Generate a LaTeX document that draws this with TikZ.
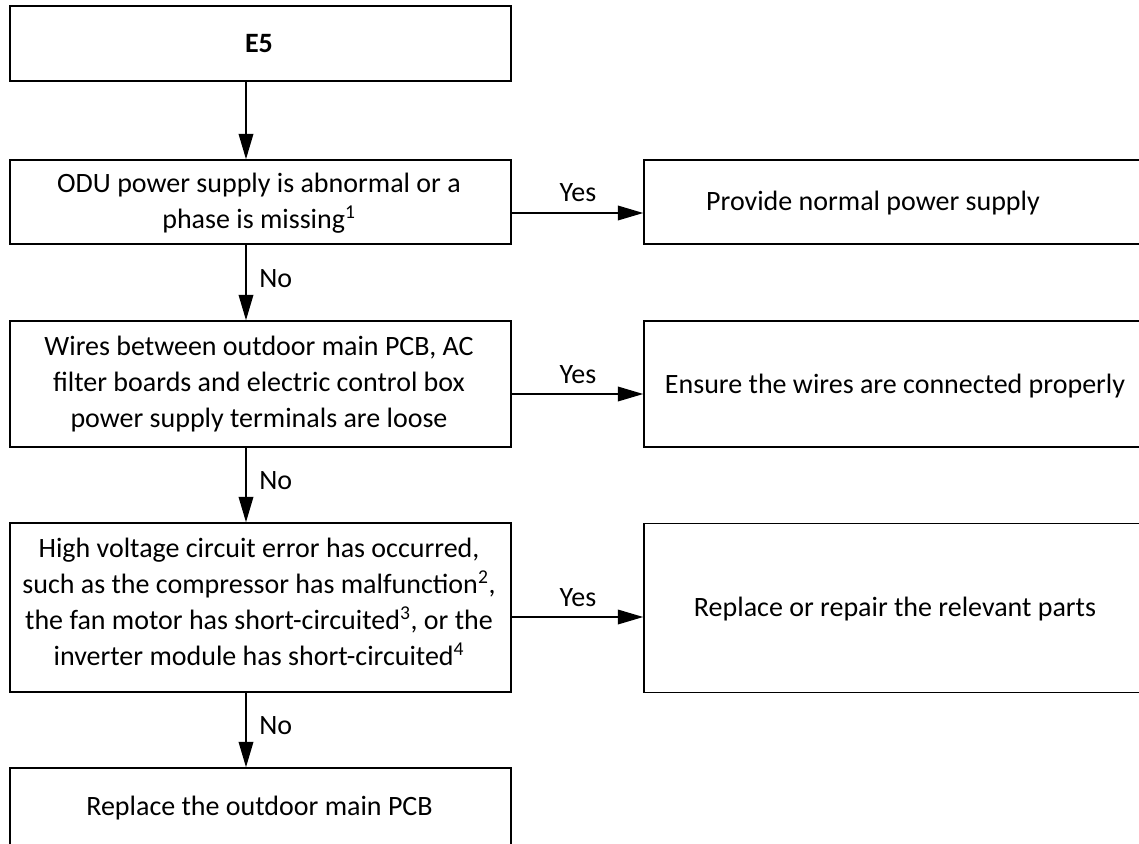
\documentclass[tikz,border=0pt]{standalone}
\usepackage{fontspec}
\setmainfont{Carlito}
\usetikzlibrary{arrows.meta,calc}
\begin{document}
\begin{tikzpicture}[x=0.75pt,y=-0.75pt,
  box/.style={draw, line width=1.2pt, rectangle, inner sep=0pt, minimum width=375.75pt},
  rbox/.style={draw, line width=1.2pt, rectangle, inner sep=0pt, minimum width=387pt},
  txt/.style={align=center, inner sep=0pt, font=\fontsize{21}{27}\selectfont},
  arr/.style={line width=1pt, -{Triangle[length=19pt,width=11pt]}},
  lbl/.style={inner sep=0pt, font=\fontsize{21}{25}\selectfont}]
\useasboundingbox (0,0) rectangle (1139,843);
\clip (0,0) rectangle (1139,843);
% left column boxes
\node[box, minimum height=56.25pt] (b1) at (260.5,43.5) {};
\node[box, minimum height=63pt] (b2) at (260.5,202) {};
\node[box, minimum height=94.5pt] (b3) at (260.5,384) {};
\node[box, minimum height=126.75pt] (b4) at (260.5,607.5) {};
\node[box, minimum height=60pt] (b5) at (260.5,808) {};
% right column boxes
\node[rbox, minimum height=63pt] (r1) at (902,202) {};
\node[rbox, minimum height=94.5pt] (r2) at (902,384) {};
\node[rbox, minimum height=126.75pt] (r3) at (902,608) {};
% texts
\node[txt, font=\fontsize{21}{27}\selectfont\bfseries] (t1) at (259,43.5) {E5};
\node[txt] (t2) at (259,203) {ODU power supply is abnormal or a\\phase is missing\textsuperscript{1}};
\node[txt] (t3) at (259,384) {Wires between outdoor main PCB, AC\\filter boards and electric control box\\power supply terminals are loose};
\node[txt] (t4) at (259,602) {High voltage circuit error has occurred,\\such as the compressor has malfunction\textsuperscript{2},\\the fan motor has short-circuited\textsuperscript{3}, or the\\inverter module has short-circuited\textsuperscript{4}};
\node[txt] (t5) at (259.5,808) {Replace the outdoor main PCB};
\node[txt] (u1) at (873,203) {Provide normal power supply};
\node[txt] (u2) at (895,386) {Ensure the wires are connected properly};
\node[txt] (u3) at (895,609) {Replace or repair the relevant parts};
% connectors
\coordinate (ax) at (246,0);
\draw[arr] (b1.south -| ax) -- (b2.north -| ax);
\draw[arr] (b2.south -| ax) -- (b3.north -| ax);
\draw[arr] (b3.south -| ax) -- (b4.north -| ax);
\draw[arr] (b4.south -| ax) -- (b5.north -| ax);
\node[lbl, anchor=west] (n1) at (259,279) {No};
\node[lbl, anchor=west] (n2) at (259,481) {No};
\node[lbl, anchor=west] (n3) at (259,726) {No};
\coordinate (y1) at (0,213);
\coordinate (y2) at (0,394);
\coordinate (y3) at (0,617);
\draw[arr] (b2.east |- y1) -- (r1.west |- y1);
\draw[arr] (b3.east |- y2) -- (r2.west |- y2);
\draw[arr] (b4.east |- y3) -- (r3.west |- y3);
\node[lbl] (s1) at (578,193) {Yes};
\node[lbl] (s2) at (578,375) {Yes};
\node[lbl] (s3) at (578,598) {Yes};
\end{tikzpicture}
\end{document}
